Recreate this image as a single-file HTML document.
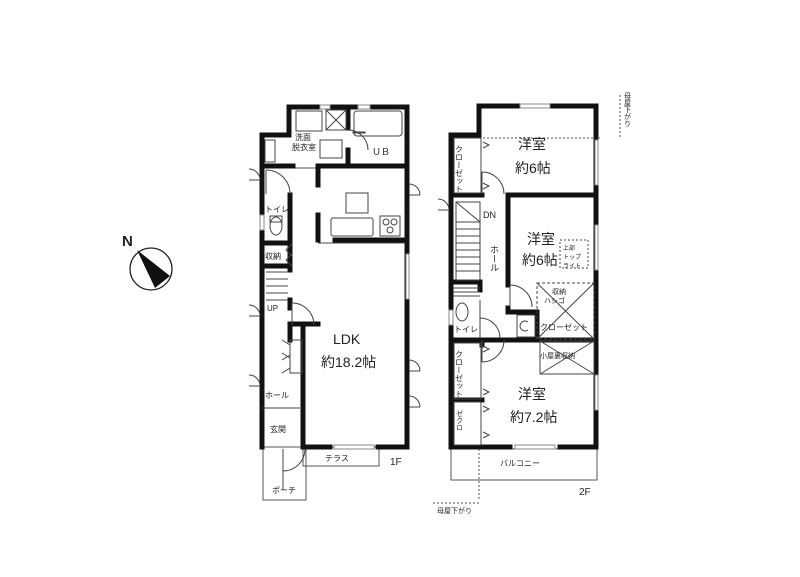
<!DOCTYPE html>
<html><head><meta charset="utf-8"><style>
html,body{margin:0;padding:0;background:#fff;}
svg{display:block;}
text{font-family:"Liberation Sans","Noto Sans CJK JP",sans-serif;fill:#222;}
</style></head><body>
<svg width="800" height="577" viewBox="0 0 800 577" xmlns="http://www.w3.org/2000/svg">
<rect width="800" height="577" fill="#fff"/>

<!-- Compass -->
<text x="122" y="246" font-size="15" font-weight="bold" fill="#000">N</text>
<circle cx="151" cy="269" r="21" fill="#fff" stroke="#222" stroke-width="1.3"/>
<polygon points="137,250 170,276 155,288" fill="#111"/>

<!-- ===== 1F ===== -->
<g fill="none" stroke="#555" stroke-width="1">
  <!-- terrace & porch -->
  <rect x="303" y="447" width="76" height="19"/>
  <rect x="263" y="447" width="43" height="53"/>
  <!-- closet thin lines -->
  <line x1="290" y1="168" x2="318" y2="168"/>
</g>
<g fill="none" stroke="#111" stroke-width="5" stroke-linecap="square">
  <!-- outer -->
  <polyline points="289,135 289,107 407,107 407,447 378,447"/>
  <polyline points="289,135 262,135 262,447"/>
  <line x1="303" y1="447" x2="330" y2="447"/>
  <!-- internal -->
  <line x1="262" y1="166" x2="293" y2="166"/>
  <line x1="318" y1="166" x2="405" y2="166"/>
  <line x1="318" y1="168" x2="318" y2="185"/>
  <line x1="318" y1="215" x2="318" y2="240"/>
  <line x1="335" y1="240" x2="405" y2="240"/>
  <line x1="348" y1="108" x2="348" y2="128"/>
  <line x1="348" y1="150" x2="348" y2="165"/>
  <line x1="290" y1="195" x2="290" y2="270"/>
  <line x1="290" y1="300" x2="290" y2="308"/>
  <line x1="262" y1="243" x2="290" y2="243"/>
  <line x1="262" y1="266" x2="290" y2="266"/>
  <line x1="290" y1="324" x2="318" y2="324"/>
  <line x1="303" y1="328" x2="303" y2="447"/>
  <line x1="290" y1="328" x2="290" y2="340"/>
</g>
<g fill="none" stroke="#444" stroke-width="1">
  <!-- wash room fixtures -->
  <rect x="296" y="111" width="26" height="20"/>
  <rect x="326" y="110" width="20" height="20"/>
  <line x1="326" y1="110" x2="346" y2="130"/><line x1="346" y1="110" x2="326" y2="130"/>
  <rect x="354" y="111" width="48" height="25" rx="3"/>
  <rect x="320" y="140" width="22" height="18"/>
  <rect x="265" y="140" width="10" height="22"/>
  <rect x="353" y="132" width="12" height="1"/>
  <path d="M348,130 A20,20 0 0 1 368,150"/>
  <!-- kitchen -->
  <rect x="346" y="193" width="22" height="20"/>
  <rect x="331" y="218" width="42" height="18" rx="2"/>
  <rect x="380" y="216" width="20" height="20"/>
  <circle cx="386" cy="222" r="3"/><circle cx="394" cy="222" r="3"/><circle cx="390" cy="230" r="3"/>
  <line x1="318" y1="243" x2="405" y2="243"/>
  <!-- toilet -->
  <ellipse cx="276" cy="226" rx="6" ry="9"/>
  <rect x="270" y="216" width="12" height="6"/>
  <path d="M266,170 A24,24 0 0 1 290,194"/>
  <line x1="266" y1="170" x2="266" y2="194"/>
  <!-- stairs -->
  <line x1="266" y1="272" x2="288" y2="272"/>
  <line x1="266" y1="279" x2="288" y2="279"/>
  <line x1="266" y1="286" x2="288" y2="286"/>
  <line x1="266" y1="293" x2="288" y2="293"/>
  <line x1="266" y1="300" x2="288" y2="300"/>
  <!-- doors -->
  <path d="M292,303 A22,22 0 0 1 314,325"/>
  <line x1="292" y1="303" x2="292" y2="325"/>
  <path d="M286,250 l6,-6 M286,260 l6,6 M286,250 l6,6 M286,260 l6,-6"/>
  <!-- shoe closet -->
  <rect x="290" y="340" width="12" height="33"/>
  <path d="M290,345 l-8,-5 M290,355 l-8,5 M290,358 l-8,-5 M290,368 l-8,5"/>
  <line x1="262" y1="408" x2="302" y2="408"/>
  <!-- porch door -->
  <path d="M305,449 A22,22 0 0 1 283,471"/>
  <line x1="283" y1="449" x2="283" y2="490"/>
  <!-- exterior door swings left -->
  <path d="M260,180 a11,11 0 0 0 -11,-11 M260,180 h-11"/>
  <path d="M260,316 a11,11 0 0 0 -11,-11 M260,316 h-11"/>
  <path d="M260,386 a11,11 0 0 0 -11,-11 M260,386 h-11"/>
  <path d="M409,184 a11,11 0 0 1 11,11 M409,195 h11" />
  <path d="M409,360 a11,11 0 0 1 11,11 M409,371 h11" />
  <path d="M409,396 a11,11 0 0 1 11,11 M409,407 h11" />
</g>
<!-- windows (white gaps) -->
<g stroke="#888" stroke-width="1" fill="#fff">
  <rect x="406" y="254" width="3" height="45"/>
  <rect x="334" y="445" width="40" height="4"/>
  <rect x="320" y="105" width="10" height="4"/>
  <rect x="358" y="105" width="12" height="4"/>
  <rect x="260" y="215" width="4" height="15"/>
</g>
<g font-size="8">
  <text x="295" y="140">洗面</text><text x="292" y="150">脱衣室</text>
  <text x="372" y="155" font-size="9">ＵＢ</text>
  <text x="265" y="212">トイレ</text>
  <text x="265" y="259">収納</text>
  <text x="267" y="311">UP</text>
  <text x="265" y="398">ホール</text>
  <text x="270" y="432">玄関</text>
  <text x="272" y="493">ポーチ</text>
  <text x="325" y="461">テラス</text>
  <text x="390" y="465" font-size="10">1F</text>
</g>
<text x="333" y="344" font-size="14">LDK</text>
<text x="321" y="367" font-size="14">約18.2帖</text>

<!-- ===== 2F ===== -->
<g fill="none" stroke="#555" stroke-width="1">
  <rect x="451" y="449" width="146" height="31"/>
  <line x1="479" y1="138" x2="600" y2="138" stroke-dasharray="2,2"/>
  <line x1="620" y1="95" x2="620" y2="138" stroke-dasharray="2,2"/>
  <line x1="479" y1="449" x2="479" y2="500" stroke-dasharray="2,2"/>
  <line x1="433" y1="503" x2="479" y2="503" stroke-dasharray="2,2"/>
</g>
<g fill="none" stroke="#111" stroke-width="5" stroke-linecap="square">
  <polyline points="479,135 479,106 596,106 596,447 560,447"/>
  <polyline points="479,135 451,135 451,447 510,447"/>
  <line x1="451" y1="195" x2="482" y2="195"/>
  <line x1="510" y1="195" x2="596" y2="195"/>
  <line x1="508" y1="195" x2="508" y2="285"/>
  <line x1="508" y1="308" x2="508" y2="312"/>
  <line x1="508" y1="312" x2="535" y2="312"/>
  <line x1="537" y1="312" x2="537" y2="338"/>
  <line x1="451" y1="340" x2="596" y2="340"/>
  <line x1="451" y1="282" x2="480" y2="282"/>
  <line x1="480" y1="282" x2="480" y2="290"/>
  <line x1="451" y1="400" x2="482" y2="400"/>
  <line x1="482" y1="340" x2="482" y2="345"/>
</g>
<g fill="none" stroke="#444" stroke-width="1">
  <rect x="454" y="138" width="27" height="55"/>
  <rect x="454" y="343" width="27" height="56"/>
  <rect x="454" y="402" width="27" height="43"/>
  <path d="M483,142 l6,3 l-6,3 M483,183 l6,3 l-6,3 M483,346 l6,3 l-6,3 M483,389 l6,3 l-6,3 M483,406 l6,3 l-6,3 M483,432 l6,3 l-6,3"/>
  <!-- door swings -->
  <path d="M482,172 A22,22 0 0 1 504,194 M482,172 v22"/>
  <path d="M482,362 A22,22 0 0 0 504,340 M482,362 v-22"/>
  <path d="M480,318 A20,20 0 0 1 500,338 M480,318 v20"/>
  <path d="M510,285 A22,22 0 0 1 532,307 M510,285 v22"/>
  <path d="M449,210 a11,11 0 0 0 -11,-11 M449,210 h-11"/>
  <!-- stairs -->
  <rect x="456" y="202" width="24" height="78"/>
  <line x1="456" y1="222" x2="480" y2="222"/><line x1="456" y1="229" x2="480" y2="229"/>
  <line x1="456" y1="236" x2="480" y2="236"/><line x1="456" y1="243" x2="480" y2="243"/>
  <line x1="456" y1="250" x2="480" y2="250"/><line x1="456" y1="257" x2="480" y2="257"/>
  <line x1="456" y1="264" x2="480" y2="264"/><line x1="456" y1="271" x2="480" y2="271"/>
  <line x1="456" y1="202" x2="480" y2="222"/>
  <!-- toilet -->
  <line x1="453" y1="288" x2="480" y2="288"/><line x1="453" y1="292" x2="480" y2="292"/><line x1="453" y1="296" x2="480" y2="296"/>
  <ellipse cx="462" cy="312" rx="6" ry="9"/>
  <line x1="480" y1="300" x2="480" y2="338"/>
  <!-- storage -->
  <rect x="537" y="283" width="57" height="56" stroke-dasharray="3,2"/>
  <line x1="537" y1="283" x2="594" y2="339"/><line x1="594" y1="283" x2="537" y2="339"/>
  <rect x="540" y="341" width="54" height="33"/>
  <line x1="540" y1="341" x2="594" y2="374"/><line x1="594" y1="341" x2="540" y2="374"/>
  <rect x="560" y="240" width="28" height="28" stroke-dasharray="2,2"/>
  <rect x="517" y="315" width="18" height="22"/>
  <path d="M528,322 a5,5 0 1 0 0,8"/>
</g>
<g stroke="#888" stroke-width="1" fill="#fff">
  <rect x="595" y="140" width="3" height="45"/>
  <rect x="595" y="225" width="3" height="45"/>
  <rect x="595" y="375" width="3" height="35"/>
  <rect x="515" y="445" width="40" height="4"/>
  <rect x="520" y="104" width="30" height="4"/>
  <rect x="449" y="310" width="4" height="15"/>
</g>
<g font-size="8">
  <text x="483" y="218" font-size="9">DN</text>
  <text font-size="8" x="459" y="145" writing-mode="tb">クローゼット</text>
  <text font-size="8" x="459" y="350" writing-mode="tb">クローゼット</text>
  <text font-size="7" x="459" y="410" writing-mode="tb">ゼクロ</text>
  <text font-size="9" x="494" y="245" writing-mode="tb">ホール</text>
  <text x="454" y="332">トイレ</text>
  <text x="540" y="330">クローゼット</text>
  <text x="540" y="358" font-size="7">小屋裏収納</text>
  <text x="552" y="294" font-size="7">収納</text>
  <text x="544" y="303" font-size="7">ハシゴ</text>
  <text x="563" y="250" font-size="6">上部</text>
  <text x="563" y="259" font-size="6">トップ</text>
  <text x="563" y="268" font-size="6">ライト</text>
  <text x="500" y="466">バルコニー</text>
  <text x="579" y="495" font-size="10">2F</text>
  <text x="437" y="513" font-size="7">母屋下がり</text>
  <text font-size="7" x="627" y="92" writing-mode="tb">母屋下がり</text>
</g>
<text x="518" y="149" font-size="14">洋室</text>
<text x="515" y="173" font-size="14">約6帖</text>
<text x="527" y="244" font-size="14">洋室</text>
<text x="522" y="265" font-size="14">約6帖</text>
<text x="518" y="399" font-size="14">洋室</text>
<text x="510" y="422" font-size="14">約7.2帖</text>
</svg>
</body></html>
